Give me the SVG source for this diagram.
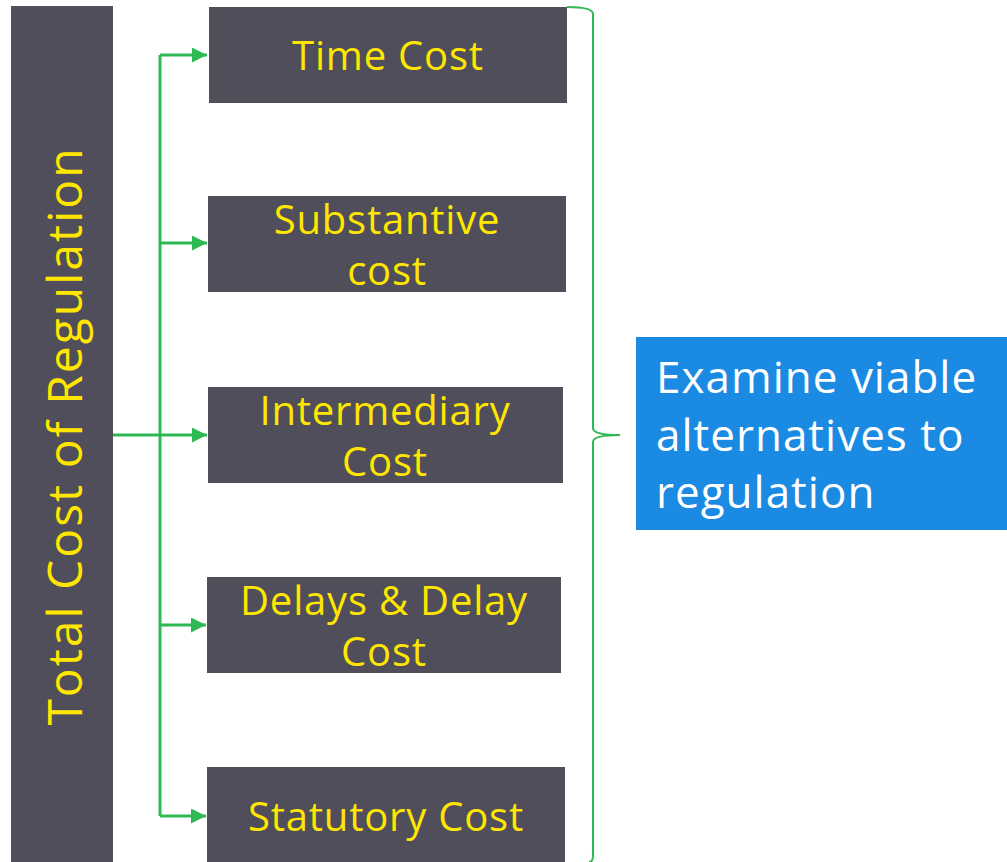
<svg xmlns="http://www.w3.org/2000/svg" width="1007" height="862" viewBox="0 0 1007 862">
<style>
.box{fill:#4f4e5a}
.t{font-family:"Open Sans","Noto Sans",sans-serif;font-size:40px;letter-spacing:0.8px;fill:#ffe600;text-anchor:middle}
.c{stroke:#2fb955;stroke-width:3;fill:none}
.w{font-family:"Open Sans","Noto Sans",sans-serif;font-size:44px;letter-spacing:1px;fill:#ffffff}
</style>
<defs>
<marker id="ah" viewBox="0 0 10 10" refX="10" refY="5" markerWidth="5" markerHeight="5" markerUnits="strokeWidth" orient="auto">
<path d="M0,0 L10,5 L0,10 z" fill="#2fb955"/>
</marker>
</defs>
<rect width="1007" height="862" fill="#ffffff"/>
<g id="total">
<rect class="box" x="11" y="6" width="102" height="856"/>
<text class="t" style="font-size:48px;letter-spacing:2px" transform="translate(82,436) rotate(-90)">Total Cost of Regulation</text>
</g>
<g id="connectors">
<path class="c" d="M160,816 V55"/>
<path class="c" d="M160,55 H207" marker-end="url(#ah)"/>
<path class="c" d="M160,243 H207" marker-end="url(#ah)"/>
<path class="c" d="M113,435 H207" marker-end="url(#ah)"/>
<path class="c" d="M160,625 H206" marker-end="url(#ah)"/>
<path class="c" d="M160,816 H206" marker-end="url(#ah)"/>
<path class="c" style="stroke-width:2" d="M567,7 Q593,7 593,14 V428 Q593,435 620,435 Q593,435 593,442 V855 Q593,862 589,862"/>
</g>
<g id="time">
<rect class="box" x="209" y="7" width="358" height="96"/>
<text class="t" x="388" y="70">Time Cost</text>
</g>
<g id="substantive">
<rect class="box" x="208" y="196" width="358" height="96"/>
<text class="t" x="387" y="234">Substantive</text>
<text class="t" x="387" y="285">cost</text>
</g>
<g id="intermediary">
<rect class="box" x="208" y="387" width="355" height="96"/>
<text class="t" x="385" y="425">Intermediary</text>
<text class="t" x="385" y="476">Cost</text>
</g>
<g id="delays">
<rect class="box" x="207" y="577" width="354" height="96"/>
<text class="t" x="384" y="615">Delays &amp; Delay</text>
<text class="t" x="384" y="666">Cost</text>
</g>
<g id="statutory">
<rect class="box" x="207" y="767" width="358" height="95"/>
<text class="t" x="386" y="831">Statutory Cost</text>
</g>
<g id="examine">
<rect x="636" y="337" width="371" height="193" fill="#1a8ae3"/>
<text class="w" x="656" y="393">Examine viable</text>
<text class="w" x="656" y="451">alternatives to</text>
<text class="w" x="656" y="508">regulation</text>
</g>
</svg>
